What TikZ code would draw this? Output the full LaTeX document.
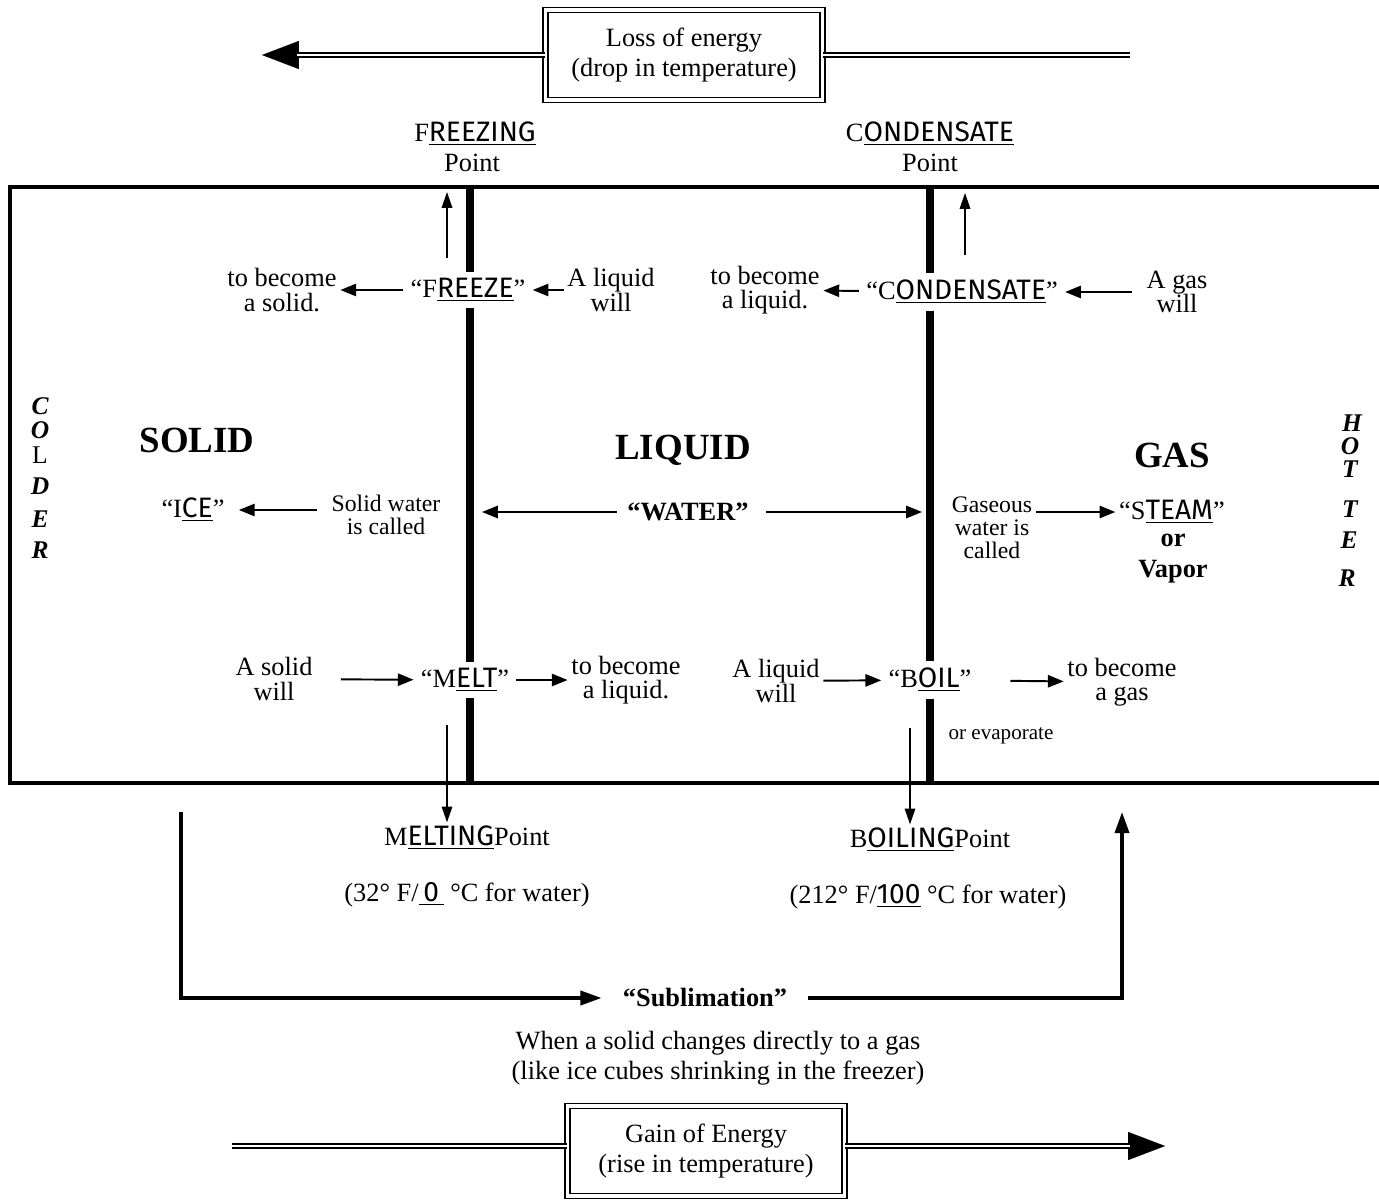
\documentclass[tikz,border=0pt]{standalone}
\usepackage{fontspec}
\setmainfont{Liberation Serif}
\newfontfamily\hand{Fira Sans}
\usetikzlibrary{arrows.meta,positioning,calc,backgrounds}
\tikzset{
  txt/.style={font=\fontsize{15}{14}\selectfont, align=center, inner sep=2pt},
  txtsmall/.style={font=\fontsize{13.5}{13}\selectfont, align=center, inner sep=2pt},
  phase/.style={font=\fontsize{21}{21}\selectfont\bfseries, inner sep=2pt},
  sideletter/.style={font=\fontsize{14.5}{15}\selectfont\bfseries\itshape, inner sep=0pt,
                text height=1.45ex, text depth=0pt},
  gapnode/.style={txt, fill=white, inner sep=4pt},
  energybox/.style={draw, double, double distance=1.8pt, line width=0.9pt,
                minimum width=5.54cm, minimum height=1.8cm, align=center,
                font=\fontsize{15}{17}\selectfont},
  rail/.style={double, double distance=1.6pt, line width=1.1pt},
  bighead/.style={-{Triangle[length=21pt,width=16pt]}, line width=0.1pt},
  arrowline/.style={-{Triangle[length=9pt,width=7pt]}, line width=1.1pt},
  arrowthin/.style={-{Triangle[length=9pt,width=6pt]}, line width=0.8pt},
  arrowwide/.style={-{Triangle[length=12pt,width=8pt]}, line width=2pt},
  outline/.style={line width=2.3pt},
  wall/.style={line width=4.5pt},
}
\newcommand{\hw}[1]{\underline{\hand\fontsize{16}{16}\selectfont #1}}

\begin{document}
\begin{tikzpicture}[x=0.02cm, y=-0.02cm]
  \useasboundingbox (0,0) rectangle (1379,1203);

  % --- Energy boxes -----------------------------------------------------------
  \node[energybox] (loss) at (684,55) {Loss of energy\\(drop in temperature)};
  \node[energybox] (gain) at (706,1151) {Gain of Energy\\(rise in temperature)};
  \coordinate (losstip)   at (262,55);
  \coordinate (lossend)   at (1130,55);
  \coordinate (gainstart) at (232,1146);
  \coordinate (gaintip)   at (1165,1146);

  \draw[bighead] (loss.west) -- (losstip);
  \draw[rail, shorten >=20pt] (loss.west) -- (losstip);
  \draw[rail] (loss.east) -- (lossend);
  \draw[rail] (gainstart) -- (gain.west |- gainstart);
  \draw[bighead] (gain.east |- gaintip) -- (gaintip);
  \draw[rail, shorten >=20pt] (gain.east |- gaintip) -- (gaintip);

  % --- Frame and the two walls -------------------------------------------------
  \draw[outline] (1379,187) -- (10,187) -- (10,783) -- (1379,783);
  \begin{scope}[on background layer]
    \draw[wall] (470,187) -- (470,783);
    \draw[wall] (930,187) -- (930,783);
  \end{scope}

  % --- Points above the frame ------------------------------------------------
  \node[txt] (frzname)  at (475,134) {F\hw{REEZING}};
  \node[txt] (frzpt)    at (472,163) {Point};
  \node[txt] (condname) at (930,134) {C\hw{ONDENSATE}};
  \node[txt] (condpt)   at (930,163) {Point};

  % --- Top row: freeze / condensate --------------------------------------------
  \node[txt]     (tosolid)  at (282,290) {to become\\a solid.};
  \node[gapnode] (freeze)   at (468,290) {``F\hw{REEZE}''};
  \node[txt]     (liqwill)  at (611,290) {A liquid\\will};
  \node[txt]     (toliquid) at (765,290) {to become\\a liquid.};
  \node[gapnode] (condense) at (962,292) {``C\hw{ONDENSATE}''};
  \node[txt]     (gaswill)  at (1177,292) {A gas\\will};

  \draw[arrowline] (freeze) -- (tosolid);
  \draw[arrowline] (liqwill) -- (freeze);
  \draw[arrowline] (condense) -- (toliquid);
  \draw[arrowline, shorten <=6pt] (gaswill) -- (condense);

  \coordinate (frzup)  at (447,258);
  \coordinate (condup) at (965,255);
  \draw[arrowthin] (frzup) -- ++(0,-66);
  \draw[arrowthin] (condup) -- ++(0,-62);

  % --- Phases -----------------------------------------------------------------------
  \node[phase] (solid)  at (197,440) {SOLID};
  \node[phase] (liquid) at (683,450) {LIQUID};
  \node[phase] (gas)    at (1172,455) {GAS};

  \foreach \ch/\yy [count=\i] in {C/409, O/433, {\mdseries\upshape L}/458, D/489, E/522, R/553}
    \node[sideletter] (cold\i) at (40,\yy) {\ch};
  \foreach \ch/\xx/\yy [count=\i] in {H/1352/426, O/1350/449, T/1350/472, T/1350/512, E/1349/543, R/1347/581}
    \node[sideletter] (hot\i) at (\xx,\yy) {\ch};

  % --- Middle row: names of water ----------------------------------------------
  \node[txt]      (ice)         at (193,510) {``I\hw{CE}''};
  \node[txtsmall] (solidcalled) at (386,515) {Solid water\\is called};
  \node[txt, font=\fontsize{15}{14}\selectfont\bfseries] (water) at (688,512) {``WATER''};
  \node[txtsmall] (gascalled)   at (992,528) {Gaseous\\water is\\called};
  \node[txt]      (steam)       at (1172,512) {``S\hw{TEAM}''};
  \node[txt, font=\fontsize{15}{14}\selectfont\bfseries] (steamor) at (1173,540) {or};
  \node[txt, font=\fontsize{15}{14}\selectfont\bfseries] (vapor)   at (1173,572) {Vapor};

  \coordinate (wallleft)  at (482,512);
  \coordinate (wallright) at (922,512);
  \draw[arrowline, shorten <=6pt, shorten >=6pt] (solidcalled.west |- ice) -- (ice);
  \draw[arrowline, shorten <=4pt] (water) -- (wallleft |- water);
  \draw[arrowline, shorten <=8pt] (water) -- (wallright |- water);
  \draw[arrowline] (gascalled.east |- steam) -- (steam);

  % --- Bottom row: melt / boil --------------------------------------------------------
  \node[txt]     (solidwill) at (274,679) {A solid\\will};
  \node[gapnode] (melt)      at (465,680) {``M\hw{ELT}''};
  \node[txt]     (tobeliq)   at (626,680) {to become\\a liquid.};
  \node[txt]     (liqwill2)  at (776,681) {A liquid\\will};
  \node[gapnode] (boil)      at (930,680) {``B\hw{OIL}''};
  \node[txt]     (togas)     at (1122,682) {to become\\a gas};
  \node[txt, font=\fontsize{12}{12}\selectfont] (evap) at (1001,736) {or evaporate};

  \draw[arrowline, shorten <=14pt] (solidwill) -- (melt);
  \draw[arrowline] (melt) -- (tobeliq);
  \draw[arrowline] (liqwill2) -- (boil);
  \draw[arrowline, shorten <=18pt] (boil) -- (togas);

  % --- Melting and boiling points --------------------------------------------------
  \node[txt] (meltpt)  at (467,838) {M\hw{ELTING}Point};
  \node[txt] (meltdeg) at (467,895) {(32° F/\hw{\,0\,}~°C for water)};
  \node[txt] (boilpt)  at (930,840) {B\hw{OILING}Point};
  \node[txt] (boildeg) at (928,897) {(212° F/\hw{100}~°C for water)};

  \coordinate (meltdown) at (447,725);
  \coordinate (boildown) at (910,728);
  \draw[arrowthin] (meltdown) -- (meltdown |- meltpt.north);
  \draw[arrowthin] (boildown) -- (boildown |- boilpt.north);

  % --- Sublimation -------------------------------------------------------------------
  \node[txt, font=\fontsize{15}{14}\selectfont\bfseries, inner xsep=12pt] (subl) at (705,998) {``Sublimation''};
  \node[txt, font=\fontsize{15}{17}\selectfont] (subdesc) at (718,1058) {When a solid changes directly to a gas\\(like ice cubes shrinking in the freezer)};
  \coordinate (subtop) at (181,812);
  \coordinate (subgas) at (1122,812);
  \draw[arrowwide] (subtop) |- (subl.west);
  \draw[arrowwide] (subl.east) -| (subgas);

\end{tikzpicture}
\end{document}
